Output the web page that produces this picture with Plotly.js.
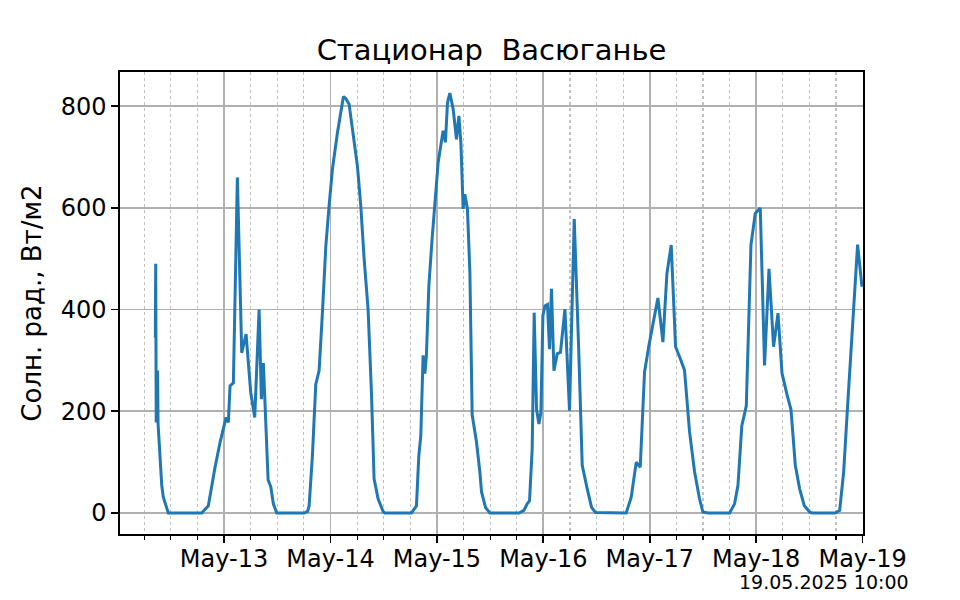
<!DOCTYPE html>
<html>
<head>
<meta charset="utf-8">
<script src="https://cdn.plot.ly/plotly-3.0.1.min.js"></script>
<style>html,body{margin:0;padding:0;background:#fff;}#chart{width:960px;height:600px;}</style>
</head>
<body>
<div id="chart"></div>
<script>
const times = [
  "2025-05-12 08:30","2025-05-12 08:35","2025-05-12 08:42","2025-05-12 09:00","2025-05-12 09:07",
  "2025-05-12 09:57","2025-05-12 10:18","2025-05-12 11:26","2025-05-12 18:58","2025-05-12 20:27",
  "2025-05-12 21:58","2025-05-12 23:06","2025-05-13 00:27","2025-05-13 00:58","2025-05-13 01:21",
  "2025-05-13 02:06","2025-05-13 03:00","2025-05-13 03:59","2025-05-13 04:58","2025-05-13 06:01",
  "2025-05-13 06:55","2025-05-13 07:54","2025-05-13 08:25","2025-05-13 08:52","2025-05-13 09:56",
  "2025-05-13 10:32","2025-05-13 11:07","2025-05-13 11:53","2025-05-13 18:03","2025-05-13 18:50",
  "2025-05-13 19:11","2025-05-13 19:55","2025-05-13 20:41","2025-05-13 21:26","2025-05-13 22:11",
  "2025-05-13 22:57","2025-05-13 23:41","2025-05-14 00:26","2025-05-14 01:34","2025-05-14 02:20",
  "2025-05-14 02:55","2025-05-14 03:27","2025-05-14 04:12","2025-05-14 04:57","2025-05-14 06:04",
  "2025-05-14 06:50","2025-05-14 07:35","2025-05-14 08:29","2025-05-14 09:14","2025-05-14 09:50",
  "2025-05-14 10:44","2025-05-14 11:52","2025-05-14 12:15","2025-05-14 18:15","2025-05-14 19:23",
  "2025-05-14 19:55","2025-05-14 20:22","2025-05-14 20:53","2025-05-14 21:17","2025-05-14 21:38",
  "2025-05-14 22:11","2025-05-14 22:55","2025-05-14 23:32","2025-05-15 00:17","2025-05-15 01:24",
  "2025-05-15 01:55","2025-05-15 02:23","2025-05-15 02:55","2025-05-15 03:40","2025-05-15 04:25",
  "2025-05-15 04:57","2025-05-15 05:24","2025-05-15 05:55","2025-05-15 06:18","2025-05-15 06:53",
  "2025-05-15 07:26","2025-05-15 07:57","2025-05-15 08:55","2025-05-15 09:41","2025-05-15 10:03",
  "2025-05-15 10:57","2025-05-15 11:56","2025-05-15 18:29","2025-05-15 19:37","2025-05-15 20:21",
  "2025-05-15 20:53","2025-05-15 21:29","2025-05-15 21:56","2025-05-15 22:28","2025-05-15 23:00",
  "2025-05-15 23:27","2025-05-15 23:54","2025-05-16 00:21","2025-05-16 00:56","2025-05-16 01:23",
  "2025-05-16 01:50","2025-05-16 02:23","2025-05-16 03:07","2025-05-16 03:52","2025-05-16 04:52",
  "2025-05-16 05:54","2025-05-16 06:58","2025-05-16 08:01","2025-05-16 08:46","2025-05-16 09:53",
  "2025-05-16 10:52","2025-05-16 11:46","2025-05-16 18:41","2025-05-16 19:49","2025-05-16 20:57",
  "2025-05-16 21:51","2025-05-16 22:49","2025-05-16 23:49","2025-05-17 00:51","2025-05-17 01:50",
  "2025-05-17 02:58","2025-05-17 03:52","2025-05-17 04:50","2025-05-17 05:49","2025-05-17 06:52",
  "2025-05-17 07:50","2025-05-17 08:58","2025-05-17 10:06","2025-05-17 11:13","2025-05-17 11:59",
  "2025-05-17 13:07","2025-05-17 18:00","2025-05-17 19:07","2025-05-17 19:53","2025-05-17 20:45",
  "2025-05-17 21:46","2025-05-17 22:49","2025-05-17 23:47","2025-05-18 00:55","2025-05-18 01:53",
  "2025-05-18 02:53","2025-05-18 03:55","2025-05-18 04:55","2025-05-18 05:49","2025-05-18 06:57",
  "2025-05-18 07:51","2025-05-18 08:49","2025-05-18 09:47","2025-05-18 10:51","2025-05-18 12:12",
  "2025-05-18 12:57","2025-05-18 17:51","2025-05-18 18:49","2025-05-18 19:43","2025-05-18 20:37",
  "2025-05-18 21:58","2025-05-18 22:52","2025-05-18 23:51"
];
const radiation = [
  345,490,178,280,176,
  54,31,0,0,14,
  90,139,188,178,250,
  256,660,315,352,237,
  188,400,224,295,65,
  52,18,0,0,3,
  14,112,253,280,394,
  525,604,676,748,794,
  819,815,804,755,683,
  604,500,400,237,67,
  28,3,0,0,14,
  112,152,310,274,310,
  447,539,604,690,752,
  729,807,826,794,735,
  781,729,598,627,598,
  474,193,140,81,42,
  11,0,0,5,18,
  24,126,394,204,175,
  198,388,407,410,322,
  441,280,313,316,401,
  201,578,310,94,48,
  11,1,0,31,100,
  90,277,330,379,423,
  336,471,527,327,304,
  281,160,81,28,2,
  0,0,18,54,171,
  211,527,589,600,290,
  480,327,393,275,233,
  203,94,48,14,1,
  0,0,5,80,211,
  408,528,445
];
const chartTitle = "Стационар  Васюганье";
const yTitle = "Солн. рад., Вт/м2";
const stamp = "19.05.2025 10:00";
const yTicks = [0, 200, 400, 600, 800];

const font = "DejaVu Sans, sans-serif";
const trace = {
  x: times, y: radiation, type: "scatter", mode: "lines",
  line: {color: "#1f77b4", width: 3}, hoverinfo: "skip"
};
const layout = {
  width: 960, height: 600,
  margin: {l: 120, r: 97, t: 72, b: 66},
  paper_bgcolor: "#fff", plot_bgcolor: "#fff",
  showlegend: false,
  font: {family: font, color: "#000"},
  title: {text: chartTitle, font: {family: font, size: 29, color: "#000"},
          x: 0.5, xref: "paper", xanchor: "center", y: 1, yref: "paper", yanchor: "bottom", pad: {b: 12}},
  xaxis: {
    type: "date",
    range: ["2025-05-12 00:32", "2025-05-19 00:05"],
    tick0: "2025-05-13", dtick: 86400000, tickformat: "%b-%d",
    ticks: "outside", ticklen: 7, tickwidth: 1.7, tickcolor: "#000",
    ticklabelstandoff: -5,
    tickfont: {family: font, size: 24, color: "#000"},
    showgrid: true, gridcolor: "#b0b0b0", gridwidth: 1.7,
    showline: true, linecolor: "#000", linewidth: 1.7, mirror: true,
    zeroline: false,
    minor: {dtick: 21600000, tick0: "2025-05-13", ticks: "outside", ticklen: 4, tickwidth: 1.2, tickcolor: "#000",
            showgrid: true, gridcolor: "#c0c0c0", gridwidth: 1.2, griddash: "dot"}
  },
  yaxis: {
    range: [-41.3, 867.3],
    tickvals: yTicks, ticktext: yTicks.map(String),
    ticks: "outside", ticklen: 7, tickwidth: 1.7, tickcolor: "#000",
    tickfont: {family: font, size: 24, color: "#000"},
    showgrid: true, gridcolor: "#b0b0b0", gridwidth: 1.7,
    showline: true, linecolor: "#000", linewidth: 1.7, mirror: true,
    zeroline: false,
    title: {text: yTitle, font: {family: font, size: 26, color: "#000"}, standoff: 11}
  },
  annotations: [{
    text: stamp, xref: "paper", yref: "paper", x: 1.0646, y: -0.104,
    xanchor: "right", yanchor: "middle", showarrow: false,
    font: {family: font, size: 19, color: "#000"}
  }]
};
Plotly.newPlot("chart", [trace], layout, {staticPlot: true, displayModeBar: false});
</script>
</body>
</html>
